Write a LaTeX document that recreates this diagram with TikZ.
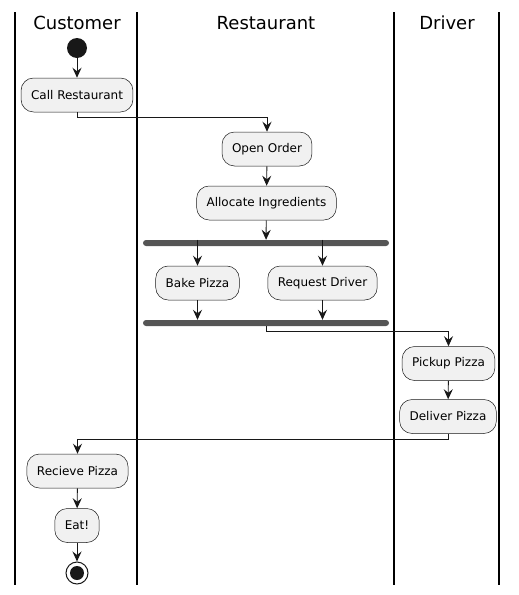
\documentclass[tikz,border=0pt]{standalone}
\usepackage{fontspec}
\setmainfont{DejaVu Sans}
\usetikzlibrary{arrows.meta}
\definecolor{boxfill}{HTML}{F1F1F1}
\definecolor{boxline}{HTML}{181818}
\definecolor{barfill}{HTML}{555555}
\tikzset{
  act/.style={draw=boxline,line width=0.5pt,fill=boxfill,rounded corners=12.5pt,
    minimum height=34pt,inner xsep=10pt,font=\fontsize{12}{14}\selectfont},
  bar/.style={fill=barfill,rounded corners=3pt,minimum width=246pt,minimum height=6pt,inner sep=0pt},
  flow/.style={draw=boxline,line width=0.9pt,-{Stealth[length=10pt,width=9pt,inset=3.5pt]}},
  lane/.style={line width=1.4pt},
  title/.style={anchor=base,inner sep=0pt,font=\fontsize{18}{21}\selectfont}
}
\begin{document}
\begin{tikzpicture}[x=1pt,y=-1pt]
\useasboundingbox (0,0) rectangle (519,595);
% swimlanes
\foreach \x in {15,137,394,499}
  \draw[lane] (\x,12) -- (\x,585);
\node[title] (customer) at (77,29) {Customer};
\node[title] (restaurant) at (266,29) {Restaurant};
\node[title] (driver) at (447,29) {Driver};

\node[circle,fill=boxline,minimum size=20pt,inner sep=0pt] (start) at (77,48) {};
\node[act] (call) at (77,95) {Call Restaurant};
\node[act] (open) at (267,149) {Open Order};
\node[act] (alloc) at (266.5,203) {Allocate Ingredients};
\node[bar] (fork) at (266,243) {};
\node[act] (bake) at (197.5,283) {Bake Pizza};
\node[act] (request) at (322.5,283) {Request Driver};
\node[bar] (join) at (266,323) {};
\node[act] (pickup) at (448.5,363.5) {Pickup Pizza};
\node[act] (deliver) at (448,416.5) {Deliver Pizza};
\node[act] (recieve) at (77.5,471) {Recieve Pizza};
\node[act] (eat) at (77,525.5) {Eat!};
\node[circle,draw=boxline,line width=1pt,minimum size=22pt,inner sep=0pt] (stop) at (77,573) {};
\fill[boxline] (stop) circle (7pt);

\draw[flow] (start) -- (call);
\draw[flow] (call.south) -- ++(0,5) -| (open.north);
\draw[flow] (open) -- (alloc);
\draw[flow] (alloc) -- (fork);
\draw[flow] (fork.north -| bake) -- (bake);
\draw[flow] (fork.north -| request) -- (request);
\draw[flow] (bake) -- (join.north -| bake);
\draw[flow] (request) -- (join.north -| request);
\draw[flow] (join.south) -- ++(0,5) -| (pickup.north);
\draw[flow] (pickup) -- (deliver);
\draw[flow] (deliver.south) -- ++(0,6) -| (recieve.north);
\draw[flow] (recieve) -- (eat);
\draw[flow] (eat) -- (stop);
\end{tikzpicture}
\end{document}
